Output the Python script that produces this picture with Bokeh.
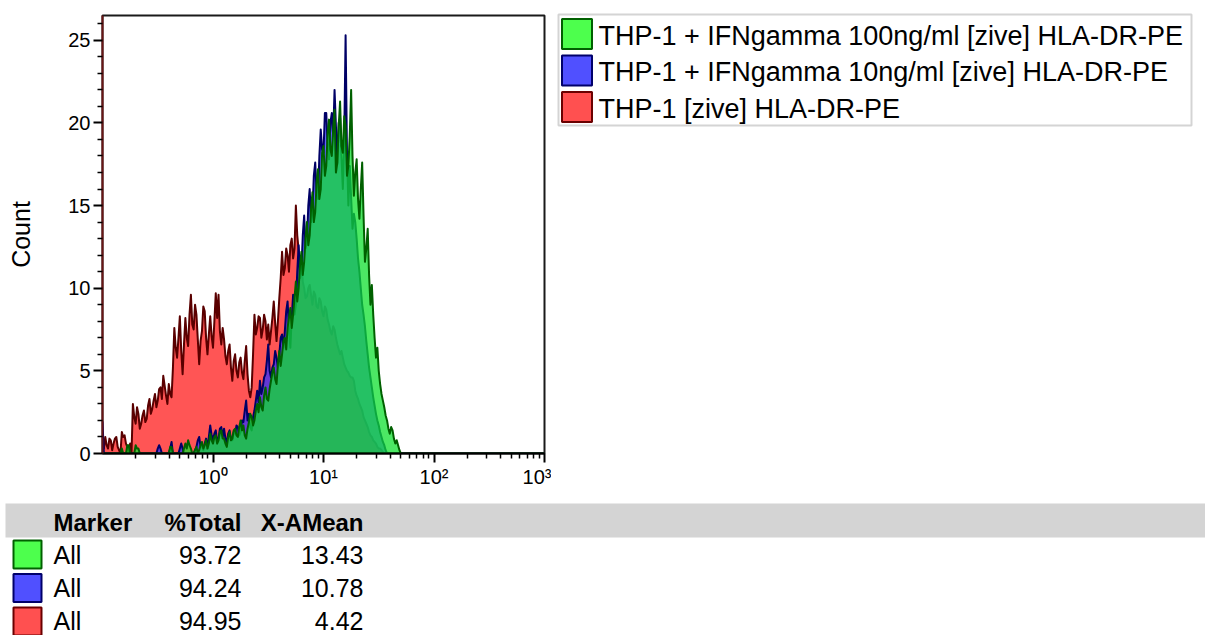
import numpy as np
from bokeh.plotting import figure
from bokeh.models import Range1d, FixedTicker
from bokeh.layouts import column, row
from bokeh.embed import file_html
from bokeh.resources import INLINE
from bokeh.core.properties import value

# ---------------- data ----------------
LOG_START = -1.0      # first channel at 10^-1
LOG_STEP = 0.0125     # channel width in decades

red_counts = [
    0.9, 0.3, 1.0, 0.5, 0.3, 0.9, 0.8, 0.2, 0.6, 0.9,
    1.0, 0.4, 0.2, 0.0, 1.3, 1.0, 1.1, 0.6, 0.4, 0.0,
    0.6, 0.0, 3.0, 2.2, 1.8, 2.8, 2.4, 1.5, 1.8, 2.3,
    2.6, 1.9, 2.1, 2.9, 3.3, 2.4, 2.7, 3.2, 3.6, 2.8,
    3.2, 3.9, 4.0, 3.3, 4.7, 4.1, 3.5, 3.0, 4.2, 3.6,
    3.4, 5.2, 7.6, 6.4, 5.8, 7.0, 8.3, 6.2, 4.8, 6.6,
    8.2, 7.0, 6.5, 8.4, 9.6, 7.8, 7.5, 9.0, 8.4, 6.9,
    5.4, 6.8, 7.4, 8.9, 8.6, 7.0, 6.0, 7.2, 8.3, 7.1,
    6.4, 8.0, 9.7, 8.2, 9.6, 7.4, 6.6, 7.6, 6.9, 5.9,
    5.4, 6.2, 6.6, 5.2, 4.4, 5.6, 6.0, 5.0, 4.6, 5.5,
    5.8, 4.9, 4.5, 5.6, 6.5, 4.8, 3.8, 3.4, 4.0, 6.0,
    8.4, 7.2, 7.6, 8.3, 8.2, 7.0, 7.5, 8.4, 8.0, 6.9,
    7.8, 6.6, 7.4, 8.2, 9.2, 7.9, 6.8, 8.0, 9.4, 10.6,
    12.2, 10.8, 11.2, 12.4, 12.0, 11.0, 12.6, 13.0, 11.8, 12.4,
    15.0, 13.2, 12.3, 11.0, 11.5, 10.4, 10.0, 9.4, 9.5, 10.0,
    10.2, 9.6, 9.0, 9.8, 9.6, 8.9, 8.8, 9.4, 9.2, 8.6,
    8.3, 8.9, 8.7, 8.1, 7.8, 7.4, 7.2, 7.7, 7.5, 7.0,
    6.6, 6.3, 6.0, 6.2, 5.8, 5.4, 5.2, 5.0, 4.9, 4.7,
    4.6, 4.6, 4.4, 3.8, 3.5, 3.3, 3.0, 2.8, 2.6, 2.2,
    2.0, 1.8, 1.6, 1.3, 1.1, 1.0, 0.8, 0.7, 0.6, 0.4,
    0.3, 0.3, 0.2, 0.1,
    0, 0, 0, 0, 0, 0, 0, 0, 0, 0, 0, 0, 0, 0, 0, 0, 0, 0, 0, 0,
    0, 0, 0, 0, 0, 0, 0, 0, 0, 0, 0, 0, 0, 0, 0, 0, 0, 0, 0, 0,
    0, 0, 0, 0, 0, 0, 0, 0, 0, 0, 0, 0, 0, 0, 0, 0, 0, 0, 0, 0,
    0, 0, 0, 0, 0, 0, 0, 0, 0, 0, 0, 0, 0, 0, 0, 0, 0, 0, 0, 0,
    0, 0, 0, 0, 0, 0, 0, 0, 0, 0, 0, 0, 0, 0, 0, 0, 0, 0, 0, 0,
    0, 0, 0, 0, 0, 0, 0, 0, 0, 0, 0, 0, 0, 0, 0, 0, 0, 0, 0, 0,
]

blue_counts = [
    1.9, 0, 0, 0, 0, 0, 0, 0, 0, 0, 0, 0, 0, 0, 0, 0, 0, 0, 0, 0,
    0, 0, 0, 0, 0, 0, 0, 0, 0, 0, 0, 0, 0, 0, 0, 0, 0, 0, 0, 0,
    0.3, 0.5, 0.3, 0, 0, 0, 0, 0, 0, 0.3,
    0.7, 0, 0, 0, 0, 0, 0.3, 0.6, 0.3, 0,
    0, 0, 0, 0, 0, 0, 0, 0.2, 0.4, 0.8,
    1.0, 0.4, 0.5, 0.2, 0.6, 0.9, 0.3, 1.0, 1.7, 1.1,
    0.8, 1.2, 1.4, 0.7, 0.9, 1.5, 1.6, 1.0, 1.5, 0.9,
    0.7, 1.2, 1.4, 0.9, 0.8, 1.3, 1.2, 1.7, 1.6, 1.1,
    1.3, 2.0, 1.9, 2.6, 3.2, 2.0, 2.4, 1.6, 1.4, 2.2,
    2.6, 3.2, 3.8, 3.1, 4.4, 3.6, 4.0, 4.6, 4.8, 5.6,
    6.6, 5.0, 4.6, 5.2, 5.4, 6.2, 5.8, 5.2, 6.0, 7.0,
    7.2, 6.4, 7.4, 8.6, 9.2, 7.6, 6.4, 8.2, 9.6, 8.4,
    9.0, 11.0, 12.6, 10.6, 11.0, 13.2, 14.4, 12.4, 12.8, 15.0,
    16.0, 14.0, 14.6, 16.8, 17.6, 15.8, 15.4, 18.0, 19.6, 18.4,
    18.2, 20.6, 20.6, 18.6, 17.8, 20.0, 20.6, 19.2, 22.0, 19.8,
    17.5, 20.0, 20.3, 18.0, 16.0, 19.0, 25.3, 18.2, 15.0, 17.4,
    15.5, 13.6, 14.5, 14.0, 13.0, 11.8, 11.0, 10.0, 9.0, 8.4,
    7.7, 6.8, 6.0, 5.2, 4.6, 4.0, 3.4, 2.9, 2.4, 2.0,
    1.7, 1.3, 1.0, 0.7, 0.5, 0.2,
    0, 0, 0, 0, 0, 0, 0, 0, 0, 0, 0, 0, 0, 0, 0, 0, 0, 0, 0, 0,
    0, 0, 0, 0, 0, 0, 0, 0, 0, 0, 0, 0, 0, 0, 0, 0, 0, 0, 0, 0,
    0, 0, 0, 0, 0, 0, 0, 0, 0, 0, 0, 0, 0, 0, 0, 0, 0, 0, 0, 0,
    0, 0, 0, 0, 0, 0, 0, 0, 0, 0, 0, 0, 0, 0, 0, 0, 0, 0, 0, 0,
    0, 0, 0, 0, 0, 0, 0, 0, 0, 0, 0, 0, 0, 0, 0, 0, 0, 0, 0, 0,
    0, 0, 0, 0, 0, 0, 0, 0, 0, 0, 0, 0, 0, 0, 0, 0, 0, 0, 0, 0,
]

green_counts = [
    0, 0, 0, 0, 0, 0, 0, 0, 0, 0,
    0, 0, 0, 0, 0.3, 0, 0, 0, 0.5, 0.5,
    0, 0, 0, 0, 0.5, 0.3, 0.3, 0, 0, 0,
    0, 0, 0, 0, 0, 0, 0, 0, 0, 0,
    0, 0, 0, 0, 0, 0, 0, 0, 0, 0.4,
    0.4, 0, 0, 0, 0, 0, 0, 0, 0, 0.3,
    0.6, 0.3, 0.8, 0.5, 0.3, 0, 0, 0.2, 0.4, 0,
    0.2, 0.5, 0.7, 0.3, 0.5, 0.8, 0.3, 0.6, 1.2, 0.8,
    0.6, 1.0, 1.1, 0.6, 0.8, 1.3, 1.4, 0.9, 0.9, 0.6,
    0.4, 1.0, 1.3, 0.8, 0.9, 1.4, 1.5, 1.1, 1.0, 1.6,
    2.0, 1.4, 1.7, 1.1, 0.9, 1.5, 1.9, 2.4, 2.2, 1.7,
    2.0, 2.6, 3.0, 2.5, 3.4, 2.8, 2.6, 3.5, 4.0, 3.3,
    3.2, 3.9, 4.4, 4.9, 5.2, 4.5, 4.2, 5.4, 6.2, 5.3,
    6.0, 6.8, 7.0, 6.3, 7.6, 8.2, 8.8, 7.6, 8.4, 9.4,
    10.4, 9.2, 10.0, 11.4, 12.2, 10.8, 11.6, 13.0, 14.0, 12.6,
    13.2, 14.8, 15.8, 14.0, 14.6, 16.4, 17.2, 15.4, 16.0, 18.2,
    18.6, 16.8, 17.4, 19.4, 20.2, 18.4, 18.0, 19.6, 20.8, 17.0,
    17.6, 19.8, 21.3, 18.6, 18.2, 20.4, 19.8, 16.8, 17.4, 19.2,
    22.0, 18.0, 15.6, 17.0, 17.8, 15.4, 14.2, 16.0, 17.6, 14.4,
    11.6, 12.4, 13.6, 10.8, 9.0, 10.2, 8.4, 7.0, 5.8, 6.4,
    5.0, 4.2, 3.6, 3.2, 2.8, 2.3, 2.0, 1.5, 1.2, 1.6,
    1.4, 0.9, 0.6, 0.8, 0.5, 0.2,
    0, 0, 0, 0, 0, 0, 0, 0, 0, 0, 0, 0, 0, 0, 0, 0, 0, 0, 0, 0,
    0, 0, 0, 0, 0, 0, 0, 0, 0, 0, 0, 0, 0, 0, 0, 0, 0, 0, 0, 0,
    0, 0, 0, 0, 0, 0, 0, 0, 0, 0, 0, 0, 0, 0, 0, 0, 0, 0, 0, 0,
    0, 0, 0, 0, 0, 0, 0, 0, 0, 0, 0, 0, 0, 0, 0, 0, 0, 0, 0, 0,
    0, 0, 0, 0, 0, 0, 0, 0, 0, 0, 0, 0, 0, 0, 0, 0, 0, 0, 0, 0,
    0, 0, 0, 0, 0, 0, 0, 0, 0, 0, 0, 0, 0, 0, 0, 0, 0, 0, 0, 0,
]

series_names = [
    "THP-1 + IFNgamma 100ng/ml [zive] HLA-DR-PE",
    "THP-1 + IFNgamma 10ng/ml [zive] HLA-DR-PE",
    "THP-1 [zive] HLA-DR-PE",
]
table_header = ["Marker", "%Total", "X-AMean"]
markers = ["All", "All", "All"]
pct_total = [93.72, 94.24, 94.95]
x_amean = [13.43, 10.78, 4.42]

x_tick_values = [1, 10, 100, 1000]
x_tick_labels = ["10\u2070", "10\u00b9", "10\u00b2", "10\u00b3"]
y_tick_values = [0, 5, 10, 15, 20, 25]
y_axis_title = "Count"

# ---------------- styles ----------------
FONT = "Liberation Sans"
swatch_fill = ["#4dff4d", "#5050ff", "#ff5050"]       # green, blue, red
swatch_line = ["#006000", "#00006a", "#6a0000"]

# ---------------- main histogram ----------------
p = figure(width=551, height=490, x_axis_type="log",
           x_range=Range1d(0.1, 1000), y_range=Range1d(0, 26.5),
           output_backend="svg", toolbar_location=None,
           min_border_left=102, min_border_right=7,
           min_border_top=15, min_border_bottom=33)
p.frame_align = False
p.background_fill_color = "white"
p.border_fill_color = "white"
p.xgrid.visible = False
p.ygrid.visible = False
p.outline_line_color = "#1a1a1a"
p.outline_line_width = 2


def hist_polygon(counts):
    n = len(counts)
    x = 10 ** (LOG_START + LOG_STEP * np.arange(n))
    xs = np.concatenate([[x[0]], x, [x[-1]]])
    ys = np.concatenate([[0.0], np.asarray(counts, dtype=float), [0.0]])
    return xs, ys


layers = [
    (red_counts, "#ff5555", 1.0, "#5a0000"),
    (blue_counts, "#3030ff", 0.75, "#000066"),
    (green_counts, "#10e030", 0.75, "#006000"),
]
for counts, fc, fa, lc in layers:
    xs, ys = hist_polygon(counts)
    p.patch(xs, ys, fill_color=fc, fill_alpha=fa, line_color=lc,
            line_width=2, line_join="round")

# axes
p.xaxis.ticker = FixedTicker(
    ticks=x_tick_values,
    minor_ticks=[k * 10.0 ** e for e in range(-1, 3) for k in range(2, 10)])
p.xaxis.major_label_overrides = dict(zip(x_tick_values, x_tick_labels))
p.yaxis.ticker = FixedTicker(ticks=y_tick_values,
                             minor_ticks=[i for i in range(0, 27) if i % 5])
for ax in (p.xaxis[0], p.yaxis[0]):
    ax.major_tick_in = 0
    ax.minor_tick_in = 0
    ax.major_tick_out = 9
    ax.major_tick_line_width = 2
    ax.minor_tick_line_width = 1.5
    ax.major_tick_line_color = "black"
    ax.minor_tick_line_color = "black"
    ax.axis_line_width = 2
    ax.major_label_text_font = FONT
    ax.major_label_text_font_size = "20px"
    ax.major_label_text_color = "black"
p.xaxis.minor_tick_out = 5
p.yaxis.minor_tick_out = 5
p.xaxis.axis_line_color = "black"
p.yaxis.axis_line_color = "#6a1515"
p.xaxis.major_label_standoff = 3
p.yaxis.major_label_standoff = 3
p.yaxis.axis_label = y_axis_title
p.yaxis.axis_label_text_font = FONT
p.yaxis.axis_label_text_font_size = "25px"
p.yaxis.axis_label_text_font_style = "normal"
p.yaxis.axis_label_text_color = "black"
p.yaxis.axis_label_standoff = 30

# ---------------- legend panel (pixel-like coordinates) ----------------
lg = figure(width=654, height=490, x_range=Range1d(551, 1205),
            y_range=Range1d(490, 0), output_backend="svg",
            toolbar_location=None, min_border=0,
            x_axis_location=None, y_axis_location=None)
lg.frame_align = False
lg.outline_line_color = None
lg.xgrid.visible = False
lg.ygrid.visible = False
lg.background_fill_color = "white"
lg.border_fill_color = "white"

lg.quad(left=558, right=1191, top=14, bottom=125, fill_color="white",
        line_color="#d4d4d4", line_width=2)
leg_centers = [33.5, 70, 106.5]
lg.rect(x=[576.5] * 3, y=leg_centers, width=30, height=30,
        fill_color=swatch_fill, line_color=swatch_line, line_width=2)
lg.text(x=[598] * 3, y=[c + 1.5 for c in leg_centers], text=series_names,
        text_align="left", text_baseline="alphabetic",
        text_font=value(FONT), text_font_size="27px", text_color="black")

# ---------------- statistics table ----------------
t = figure(width=1205, height=145, x_range=Range1d(0, 1205),
           y_range=Range1d(145, 0), output_backend="svg",
           toolbar_location=None, min_border=0,
           x_axis_location=None, y_axis_location=None)
t.frame_align = False
t.outline_line_color = None
t.xgrid.visible = False
t.ygrid.visible = False
t.background_fill_color = "white"
t.border_fill_color = "white"

t.quad(left=5, right=1205, top=13, bottom=47, fill_color="#d4d4d4",
       line_color=None)
hdr_base = 32
for txt, xx, al in zip(table_header, [53, 241, 363], ["left", "right", "right"]):
    t.text(x=[xx], y=[hdr_base], text=[txt], text_align=al,
           text_baseline="alphabetic", text_font=value(FONT),
           text_font_style="bold", text_font_size="24px", text_color="black")

sw_centers = [64, 97.5, 131]
row_base = [64.5, 97.5, 130.5]
t.rect(x=[27] * 3, y=sw_centers, width=28, height=28,
       fill_color=swatch_fill, line_color=swatch_line, line_width=2)
t.text(x=[53] * 3, y=row_base, text=markers, text_align="left",
       text_baseline="alphabetic", text_font=value(FONT),
       text_font_size="25px", text_color="black")
t.text(x=[241] * 3, y=row_base, text=[f"{v:.2f}" for v in pct_total],
       text_align="right", text_baseline="alphabetic", text_font=value(FONT),
       text_font_size="25px", text_color="black")
t.text(x=[363] * 3, y=row_base, text=[f"{v:.2f}" for v in x_amean],
       text_align="right", text_baseline="alphabetic", text_font=value(FONT),
       text_font_size="25px", text_color="black")

layout = column(row(p, lg, spacing=0), t, spacing=0)
open("out.html", "w").write(file_html(layout, INLINE))
